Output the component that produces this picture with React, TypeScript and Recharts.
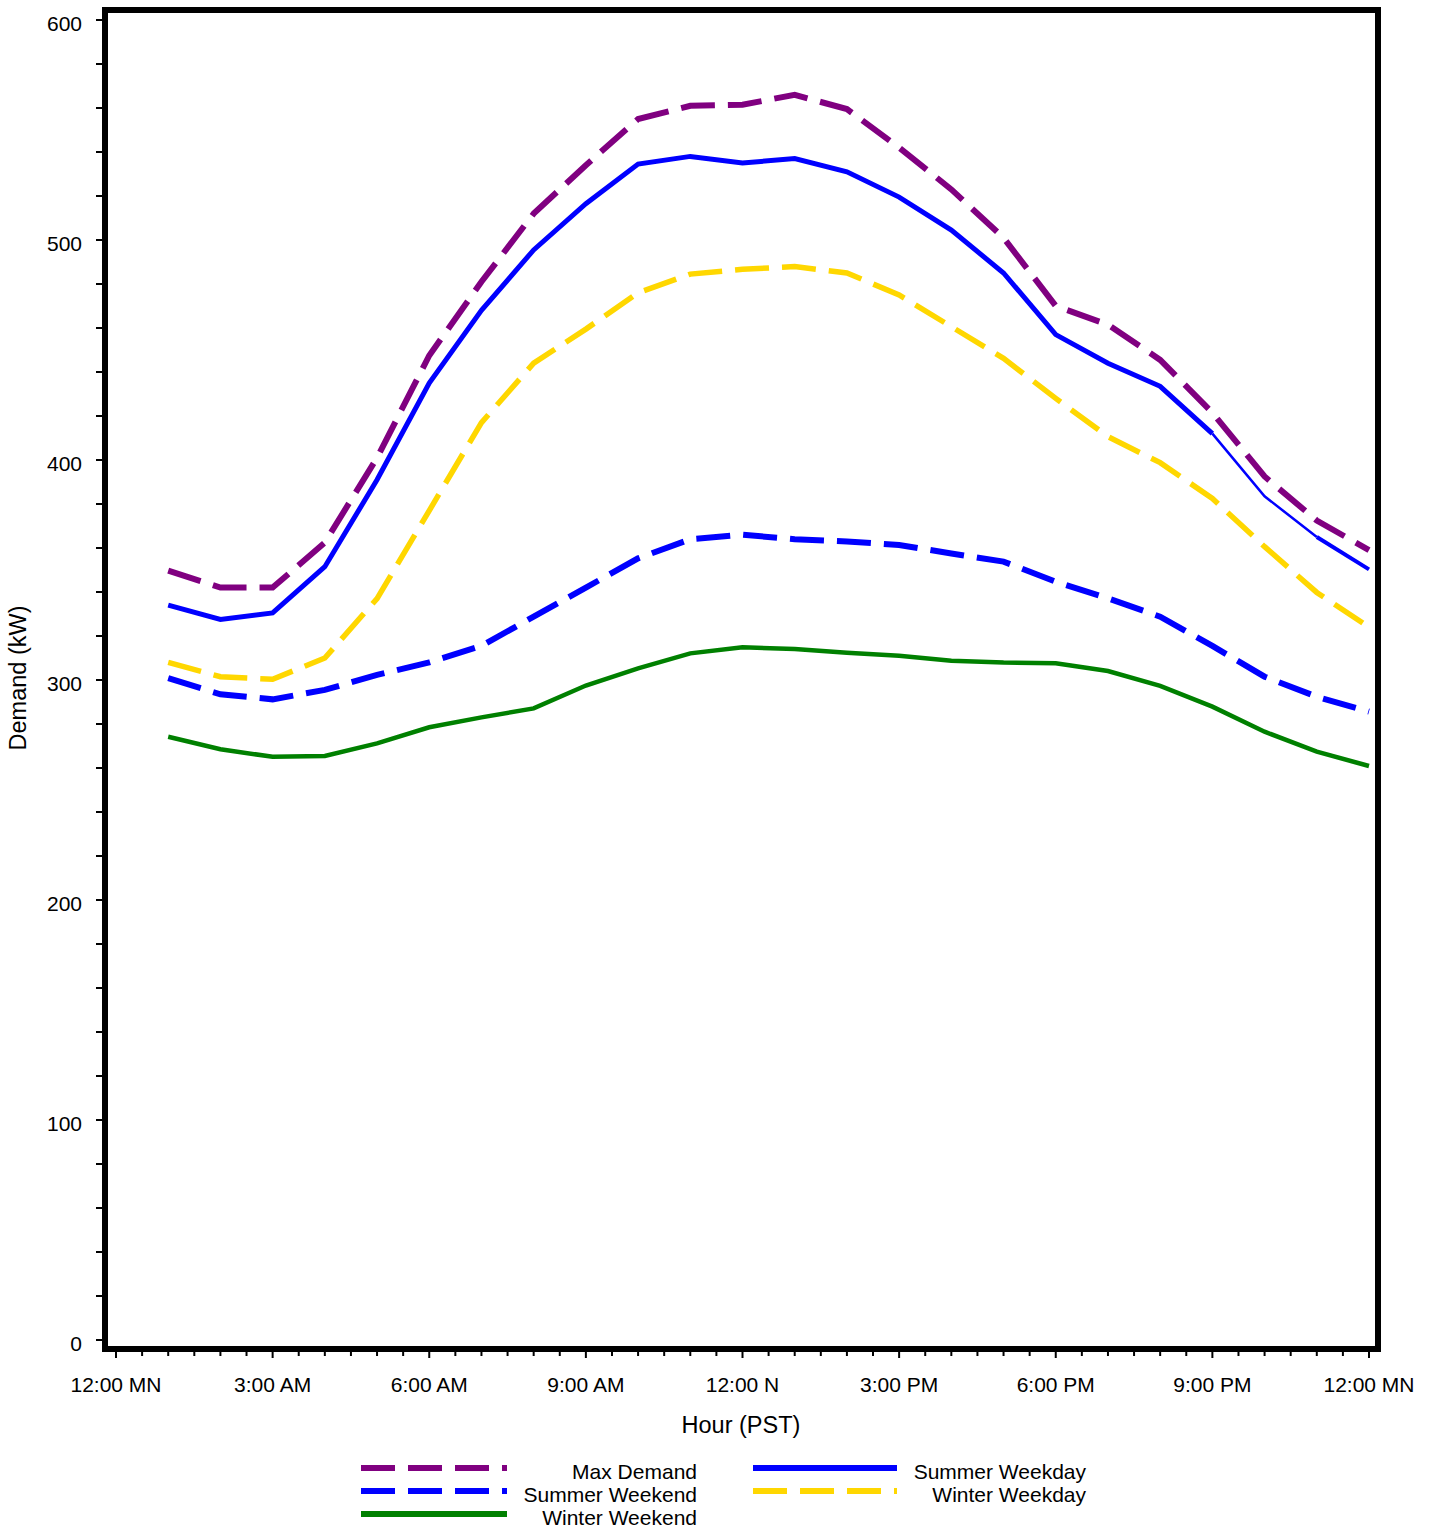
import React from "react";
import { LineChart, Line, XAxis, YAxis } from "recharts";

const FONT = "'Liberation Sans', Arial, Helvetica, sans-serif";

// hours 1..24 (hour-ending)
const HOURS = [1, 2, 3, 4, 5, 6, 7, 8, 9, 10, 11, 12, 13, 14, 15, 16, 17, 18, 19, 20, 21, 22, 23, 24];

const maxDemand = [349.7, 342, 342, 362.5, 401, 447.5, 481, 512, 534, 555, 561, 561.5, 566, 559.5, 542, 523, 501, 470, 461.5, 445.5, 421.5, 392.5, 372.5, 359];
const summerWeekday = [334, 327.5, 330.5, 351.5, 391, 435, 468, 495.5, 516.5, 534.5, 538, 535, 537, 531, 519.5, 504.5, 485, 457, 444, 433.5, 412, 383.5, 365, 350.3];
const summerWeekend = [300.8, 293.5, 291.2, 295.5, 302.3, 308, 315.5, 328.8, 342, 355.3, 364, 366, 364, 363, 361.4, 357.5, 353.8, 344.7, 337.1, 328.8, 315.5, 301.5, 292.4, 285.6];
const winterWeekday = [308, 301.5, 300.3, 310, 337, 377, 417, 444, 459.5, 476, 484.5, 486.7, 487.9, 485, 475, 460.6, 446.2, 428, 410.6, 398.8, 382.5, 360.6, 339.8, 324];
const winterWeekend = [274.2, 268.5, 265.1, 265.5, 271.2, 278.5, 283, 287.1, 297.5, 305.3, 312.1, 314.9, 314.1, 312.4, 311, 308.8, 307.9, 307.6, 304.1, 297.3, 287.9, 276.5, 267.4, 260.9];

const X_TICKS = Array.from({ length: 49 }, (_, i) => i / 2);
const X_LABELS: Record<number, string> = {
  0: "12:00 MN", 3: "3:00 AM", 6: "6:00 AM", 9: "9:00 AM", 12: "12:00 N",
  15: "3:00 PM", 18: "6:00 PM", 21: "9:00 PM", 24: "12:00 MN",
};
const Y_TICKS = Array.from({ length: 31 }, (_, i) => i * 20);

const data = HOURS.map((h, i) => ({
  hour: h,
  maxDemand: maxDemand[i],
  // summer weekday is drawn in pieces because the original stroke gets thin after 9 PM
  swA: h <= 21 ? summerWeekday[i] : null,
  swB: h >= 21 && h <= 23 ? summerWeekday[i] : null,
  swC: h >= 23 ? summerWeekday[i] : null,
  summerWeekend: summerWeekend[i],
  winterWeekday: winterWeekday[i],
  winterWeekend: winterWeekend[i],
}));

const DASH = "34 13";

const YTick = (props: any) => {
  const { x, y, payload } = props;
  const v = payload.value;
  return (
    <g>
      <line x1={x - 3} x2={x - 9} y1={y} y2={y} stroke="#000" strokeWidth={2} />
      {v % 100 === 0 && (
        <text x={x - 23} y={y + 11} textAnchor="end" fontSize={21} fontFamily={FONT} fill="#000">
          {v}
        </text>
      )}
    </g>
  );
};

const XTick = (props: any) => {
  const { x, y, payload } = props;
  const v = payload.value;
  const major = v % 3 === 0;
  return (
    <g>
      <line x1={x} x2={x} y1={y + 3} y2={y + (major ? 9 : 7)} stroke="#000" strokeWidth={2} />
      {major && (
        <text x={x} y={y + 43} textAnchor="middle" fontSize={21} fontFamily={FONT} fill="#000">
          {X_LABELS[v]}
        </text>
      )}
    </g>
  );
};

const YTitle = () => (
  <text x={26} y={678} transform="rotate(-90 26 678)" textAnchor="middle" fontSize={23.5} fontFamily={FONT} fill="#000">
    Demand (kW)
  </text>
);

const XTitle = () => (
  <text x={741} y={1433} textAnchor="middle" fontSize={23.5} fontFamily={FONT} fill="#000">
    Hour (PST)
  </text>
);

const FRAME = { stroke: "#000", strokeWidth: 6, strokeLinecap: "square" as const };

const LEGEND = [
  { name: "Max Demand", color: "#800080", dash: DASH, col: 0, row: 0 },
  { name: "Summer Weekend", color: "#0000FF", dash: DASH, col: 0, row: 1 },
  { name: "Winter Weekend", color: "#008000", dash: undefined, col: 0, row: 2 },
  { name: "Summer Weekday", color: "#0000FF", dash: undefined, col: 1, row: 0 },
  { name: "Winter Weekday", color: "#FFD700", dash: DASH, col: 1, row: 1 },
];

function LegendBox() {
  const cols = [
    { x1: 361, x2: 507, textEnd: 697 },
    { x1: 753, x2: 897, textEnd: 1086 },
  ];
  return (
    <svg width={1434} height={80} style={{ display: "block" }}>
      {LEGEND.map((l) => {
        const c = cols[l.col];
        const y = 18 + l.row * 23;
        return (
          <g key={l.name}>
            <line x1={c.x1} x2={c.x2} y1={y} y2={y} stroke={l.color} strokeWidth={6} strokeDasharray={l.dash} />
            <text x={c.textEnd} y={y + 11} textAnchor="end" fontSize={21} fontFamily={FONT} fill="#000">
              {l.name}
            </text>
          </g>
        );
      })}
    </svg>
  );
}

export default function App() {
  return (
    <div style={{ width: 1434, background: "#fff" }}>
      <style>{`body{margin:0;background:#fff}`}</style>
      <LineChart width={1434} height={1450} data={data} margin={{ top: 9, right: 55, bottom: 0, left: 25 }}>
        <XAxis
          dataKey="hour"
          type="number"
          domain={[0, 24]}
          ticks={X_TICKS}
          interval={0}
          padding={{ left: 11, right: 9 }}
          height={101}
          axisLine={FRAME}
          tickLine={false}
          tickSize={0}
          tickMargin={0}
          tick={<XTick />}
          label={<XTitle />}
        />
        <XAxis
          xAxisId="frame"
          orientation="top"
          type="number"
          domain={[0, 24]}
          height={1}
          axisLine={FRAME}
          tick={false}
          tickLine={false}
        />
        <YAxis
          type="number"
          domain={[0, 600]}
          ticks={Y_TICKS}
          interval={0}
          padding={{ top: 10, bottom: 9 }}
          width={80}
          axisLine={FRAME}
          tickLine={false}
          tickSize={0}
          tickMargin={0}
          tick={<YTick />}
          label={<YTitle />}
        />
        <YAxis
          yAxisId="frame"
          orientation="right"
          type="number"
          domain={[0, 600]}
          width={1}
          axisLine={FRAME}
          tick={false}
          tickLine={false}
        />
        <Line dataKey="winterWeekend" stroke="#008000" strokeWidth={4.5} dot={false} isAnimationActive={false} />
        <Line dataKey="summerWeekend" stroke="#0000FF" strokeWidth={6} strokeDasharray={DASH} dot={false} isAnimationActive={false} />
        <Line dataKey="winterWeekday" stroke="#FFD700" strokeWidth={5.5} strokeDasharray={DASH} dot={false} isAnimationActive={false} />
        <Line dataKey="maxDemand" stroke="#800080" strokeWidth={6} strokeDasharray={DASH} dot={false} isAnimationActive={false} />
        <Line dataKey="swA" stroke="#0000FF" strokeWidth={5} dot={false} isAnimationActive={false} />
        <Line dataKey="swB" stroke="#0000FF" strokeWidth={2.5} dot={false} isAnimationActive={false} />
        <Line dataKey="swC" stroke="#0000FF" strokeWidth={4} dot={false} isAnimationActive={false} />
      </LineChart>
      <LegendBox />
    </div>
  );
}
